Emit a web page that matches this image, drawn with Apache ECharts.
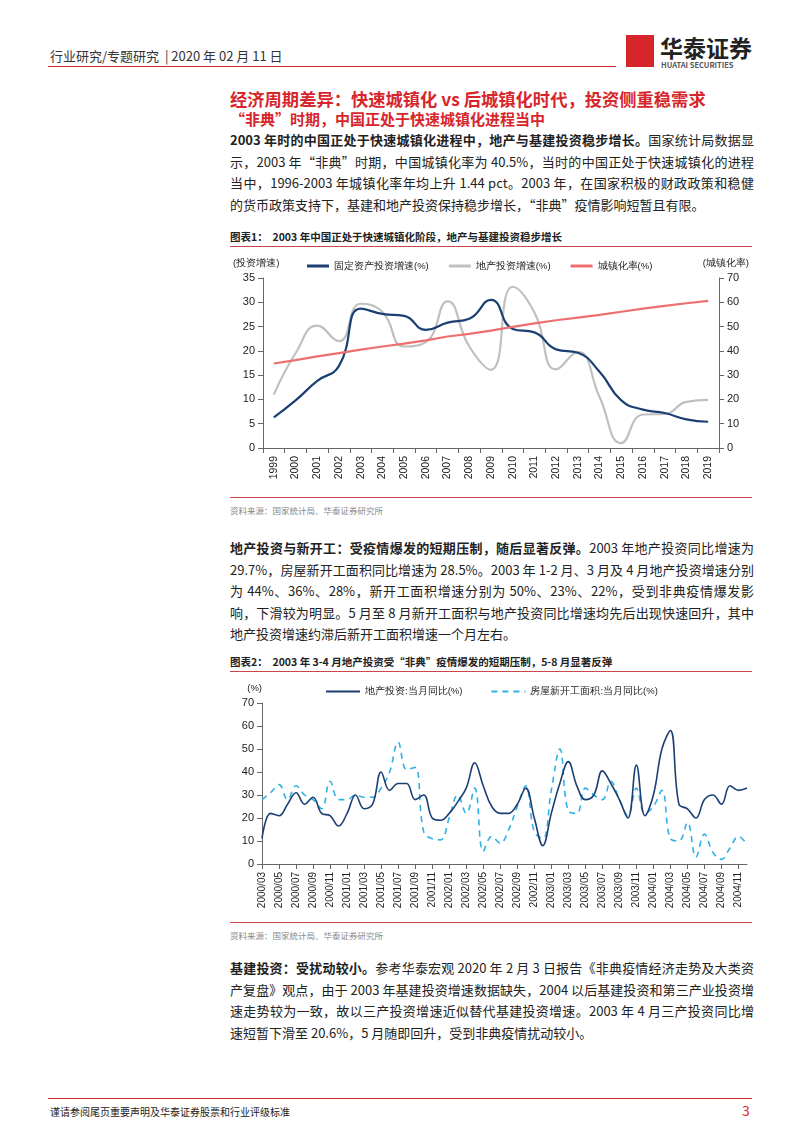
<!DOCTYPE html>
<html><head><meta charset="utf-8">
<script src="https://cdn.jsdelivr.net/npm/echarts@6/dist/echarts.min.js"></script>
<style>
body{margin:0;width:800px;height:1132px;background:#fff;font-family:"Noto Sans CJK SC",sans-serif;position:relative;overflow:hidden;color:#222}
.a{position:absolute}
.p{left:230px;width:524px;font-size:13px;line-height:21.5px;text-align:justify}
.r{color:#d7262b;font-weight:bold}
.cap{left:230px;font-size:10.5px;font-weight:bold}
.line{left:230px;width:522px;height:0;border-top:1.5px solid #c9474a}
.src{left:230px;font-size:8.5px;color:#888}
</style></head><body>
<div class="a" style="left:50px;top:46px;font-size:13px;color:#333">行业研究/专题研究 &nbsp;| 2020 年 02 月 11 日</div>
<div class="a" style="left:48px;top:66px;width:568px;border-top:1.5px solid #d7262b"></div>
<div class="a" style="left:626px;top:35px;width:28px;height:32px;background:#d7262b"></div>
<div class="a" style="left:660px;top:30px;font-size:23px;font-weight:bold;color:#222">华泰证券</div>
<div class="a" style="left:661px;top:59px;font-size:7.5px;font-weight:bold;color:#555">HUATAI SECURITIES</div>
<div class="a r" style="left:230px;top:86px;font-size:17.3px">经济周期差异：快速城镇化 vs 后城镇化时代，投资侧重稳需求</div>
<div class="a r" style="left:230px;top:108px;font-size:15px">“非典”时期，中国正处于快速城镇化进程当中</div>
<div class="a p" style="top:129px"><b>2003 年时的中国正处于快速城镇化进程中，地产与基建投资稳步增长。</b>国家统计局数据显示，2003 年“非典”时期，中国城镇化率为 40.5%，当时的中国正处于快速城镇化的进程当中，1996-2003 年城镇化率年均上升 1.44 pct。2003 年，在国家积极的财政政策和稳健的货币政策支持下，基建和地产投资保持稳步增长，“非典”疫情影响短暂且有限。</div>
<div class="a cap" style="top:229px">图表1：&nbsp; 2003 年中国正处于快速城镇化阶段，地产与基建投资稳步增长</div>
<div class="a line" style="top:246px"></div>
<div id="c1" class="a" style="left:230px;top:250px;width:522px;height:240px"></div>
<div class="a line" style="top:497px"></div>
<div class="a src" style="top:504px">资料来源：国家统计局、华泰证券研究所</div>
<div class="a p" style="top:537px"><b>地产投资与新开工：受疫情爆发的短期压制，随后显著反弹。</b>2003 年地产投资同比增速为 29.7%，房屋新开工面积同比增速为 28.5%。2003 年 1-2 月、3 月及 4 月地产投资增速分别为 44%、36%、28%，新开工面积增速分别为 50%、23%、22%，受到非典疫情爆发影响，下滑较为明显。5 月至 8 月新开工面积与地产投资同比增速均先后出现快速回升，其中地产投资增速约滞后新开工面积增速一个月左右。</div>
<div class="a cap" style="top:654px">图表2：&nbsp; 2003 年 3-4 月地产投资受“非典”疫情爆发的短期压制，5-8 月显著反弹</div>
<div class="a line" style="top:671px"></div>
<div id="c2" class="a" style="left:230px;top:675px;width:522px;height:245px"></div>
<div class="a line" style="top:922px"></div>
<div class="a src" style="top:929px">资料来源：国家统计局、华泰证券研究所</div>
<div class="a p" style="top:957px"><b>基建投资：受扰动较小。</b>参考华泰宏观 2020 年 2 月 3 日报告《非典疫情经济走势及大类资产复盘》观点，由于 2003 年基建投资增速数据缺失，2004 以后基建投资和第三产业投资增速走势较为一致，故以三产投资增速近似替代基建投资增速。2003 年 4 月三产投资同比增速短暂下滑至 20.6%，5 月随即回升，受到非典疫情扰动较小。</div>
<div class="a" style="left:48px;top:1098px;width:704px;border-top:1px solid #d7262b"></div>
<div class="a" style="left:50px;top:1104px;font-size:10px">谨请参阅尾页重要声明及华泰证券股票和行业评级标准</div>
<div class="a" style="left:742px;top:1100px;font-size:14px;color:#d7262b">3</div>
<script>
var years = ['1999','2000','2001','2002','2003','2004','2005','2006','2007','2008','2009','2010','2011','2012','2013','2014','2015','2016','2017','2018','2019'];
var fixedInv = [6.3,9.8,13.8,16.9,28.7,27.6,27.2,24.3,25.8,26.6,30.5,24.5,23.8,20.3,19.6,15.7,9.8,7.9,7.2,5.9,5.4];
var propInv = [11,19.5,25.2,22,29.7,28,20.9,21.8,30.2,20.9,16.1,33.2,27.9,16.2,19.8,10.5,1.0,6.9,7.0,9.5,9.9];
var urbanRate = [34.8,36.2,37.7,39.1,40.5,41.8,43.0,44.3,45.9,47.0,48.3,49.9,51.3,52.6,53.7,54.8,56.1,57.4,58.5,59.6,60.6];

var months = [];
(function(){ for (var y=2000;y<=2004;y++) for (var m=(y==2000?3:1);m<=12;m++) months.push(y+'/'+(m<10?'0':'')+m); })();
var propMonthly = [11,22,21,26,31,26,29,22,21,16.5,
    22,30,24,26,40,32,35,35,28,30,20,19,
    22,27,33,44,34,25,22,22,26,33,20,8,
    22,35,44.5,34,28,30,40.5,35,28,20,43,21,
    30,50,58,26,24,20,28,30,26,34,32,33];
var startsMonthly = [28,31,34.5,28,34,30,28,24,36,28,
    28,30,29,29,33,40,53,41,42,14,11,10.5,
    20,30,22,33,5.5,12,9,15,25,34,14,11,
    32,50,23,22,33,30,28,36,28,21,33,22,
    25,32,11,10,18,3,13,5,2,7,12,8.5];
var axisTxt = {color:'#222', fontSize:11, fontFamily:'Liberation Sans'};
var axLine = {show:true, lineStyle:{color:'#666'}};

var c1 = echarts.init(document.getElementById('c1'));
c1.setOption({
    animation:false,
    grid:{left:32, right:31, top:28, bottom:42},
    legend:{top:6, left:72, itemWidth:22, itemHeight:3, itemGap:20, icon:'rect',
        textStyle:{fontSize:9.5, color:'#222'},
        data:['固定资产投资增速(%)','地产投资增速(%)','城镇化率(%)']},
    xAxis:{type:'category', data:years, boundaryGap:true, axisLine:axLine,
        axisTick:{show:true, interval:0, lineStyle:{color:'#666'}},
        axisLabel:{rotate:90, interval:0, color:'#222', fontSize:10.5, fontFamily:'Liberation Sans'}},
    yAxis:[
        {type:'value', min:0, max:35, interval:5, name:'(投资增速)', nameGap:10,
            nameTextStyle:{fontSize:9.5, color:'#222', align:'left', padding:[0,0,0,-30]},
            axisLine:axLine, axisTick:{show:true}, splitLine:{show:false}, axisLabel:axisTxt},
        {type:'value', min:0, max:70, interval:10, name:'(城镇化率)', nameGap:10,
            nameTextStyle:{fontSize:9.5, color:'#222', align:'right', padding:[0,-30,0,0]},
            axisLine:axLine, axisTick:{show:true}, splitLine:{show:false}, axisLabel:axisTxt}
    ],
    series:[
        {name:'固定资产投资增速(%)', type:'line', smooth:true, symbol:'none', data:fixedInv, z:3,
            lineStyle:{color:'#1b3f73', width:2.2}, itemStyle:{color:'#1b3f73'}},
        {name:'地产投资增速(%)', type:'line', smooth:true, symbol:'none', data:propInv, z:2,
            lineStyle:{color:'#c0c0c0', width:2.2}, itemStyle:{color:'#c0c0c0'}},
        {name:'城镇化率(%)', type:'line', yAxisIndex:1, symbol:'none', data:urbanRate, z:4,
            lineStyle:{color:'#ee6f6f', width:2.2}, itemStyle:{color:'#ee6f6f'}}
    ]
});

var c2 = echarts.init(document.getElementById('c2'));
c2.setOption({
    animation:false,
    grid:{left:32, right:5, top:28, bottom:56},
    legend:{top:6, left:90, itemWidth:34, itemGap:28, itemStyle:{opacity:0},
        textStyle:{fontSize:9.5, color:'#222'}},
    xAxis:{type:'category', data:months, boundaryGap:false, axisLine:axLine,
        axisTick:{show:true, interval:1, lineStyle:{color:'#666'}},
        axisLabel:{rotate:90, interval:1, color:'#222', fontSize:10, fontFamily:'Liberation Sans'}},
    yAxis:{type:'value', min:0, max:70, interval:10, name:'(%)', nameGap:10,
        nameTextStyle:{fontSize:9.5, color:'#222', align:'right'},
        axisLine:axLine, axisTick:{show:true}, splitLine:{show:false}, axisLabel:axisTxt},
    series:[
        {name:'地产投资:当月同比(%)', type:'line', smooth:0.4, symbol:'none', data:propMonthly, z:3,
            lineStyle:{color:'#1b3f73', width:1.6}, itemStyle:{color:'#1b3f73'}},
        {name:'房屋新开工面积:当月同比(%)', type:'line', smooth:0.4, symbol:'none', data:startsMonthly, z:2,
            lineStyle:{color:'#2fb2e3', width:1.6, type:[6,5]}, itemStyle:{color:'#2fb2e3'}}
    ]
});
</script>
</body></html>
